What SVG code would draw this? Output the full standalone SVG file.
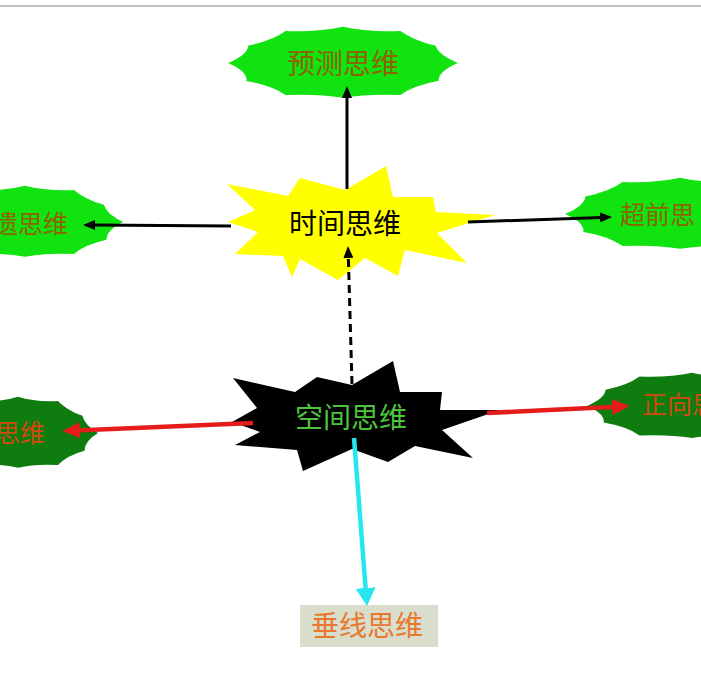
<svg xmlns="http://www.w3.org/2000/svg" xmlns:xlink="http://www.w3.org/1999/xlink" width="701" height="700" viewBox="0 0 701 700">
<style>
  text { font-family: "Noto Sans CJK SC", "Noto Sans", sans-serif; dominant-baseline: central; }
  .main { font-size: 28px; text-anchor: middle; }
  .side { font-size: 25px; }
  .light { fill: #11e311; }
  .dark { fill: #0e7c0e; }
  .tl { fill: #8c6400; }
  .td { fill: #d04a12; }
  .blk { stroke: #000; stroke-width: 3; fill: none; }
  .red { stroke: #e41c1c; stroke-width: 4.5; fill: none; }
  .cyan { stroke: #26e6f2; stroke-width: 4.5; fill: none; }
</style>
<defs>
  <path id="seal" d="M100,0 Q83,22 83.1,48 Q61,61 50,86.6 Q22,83 0,94 Q-22,83 -50,86.6 Q-61,61 -84,48.5 Q-83,22 -100,0 Q-83,-22 -82.3,-47.5 Q-61,-61 -50,-86.6 Q-22,-83 0,-98 Q22,-83 50,-86.6 Q61,-61 80.5,-46.5 Q83,-22 100,0Z"/>
  <marker id="ab" markerUnits="userSpaceOnUse" markerWidth="12" markerHeight="10" refX="2" refY="5" orient="auto"><path d="M0,0 L12,5 L0,10z" fill="#000"/></marker>
  <marker id="ar" markerUnits="userSpaceOnUse" markerWidth="18" markerHeight="16" refX="4" refY="8" orient="auto"><path d="M0,0 L18,8 L0,16z" fill="#e41c1c"/></marker>
  <marker id="ac" markerUnits="userSpaceOnUse" markerWidth="18" markerHeight="20" refX="4" refY="10" orient="auto"><path d="M0,0 L18,10 L0,20z" fill="#26e6f2"/></marker>
</defs>
<rect width="701" height="700" fill="#fff"/>
<line x1="0" y1="6" x2="701" y2="6" stroke="#a8a8a8" stroke-width="1.5"/>

<g id="node-yuce">
  <use xlink:href="#seal" class="light" transform="translate(343,63) scale(1.15,0.37)"/>
  <text class="main tl" x="343" y="62">预测思维</text>
</g>
<g id="node-yi">
  <use xlink:href="#seal" class="light" transform="translate(25,222) scale(0.98,0.37)"/>
  <text class="side tl" x="68" y="222" text-anchor="end">遗思维</text>
</g>
<g id="node-chaoqian">
  <use xlink:href="#seal" class="light" transform="translate(680,214) scale(1.15,0.37)"/>
  <text class="side tl" x="620" y="213">超前思</text>
</g>
<g id="node-shijian">
  <polygon fill="#ffff00" points="227,184 288,196 300,178 345,190 386,166 393,197 433,197 436,212 495,215 437,233 467,263 405,250 398,276 365,258 338,280 300,259 292,277 283,256 235,254 258,232 228,222 255,210"/>
  <text class="main" x="345" y="222" fill="#000">时间思维</text>
</g>
<g id="node-kongjian">
  <polygon fill="#000" points="233,378 295,392 317,377 352,385 393,361 400,392 442,392 440,410 500,410 442,430 473,458 415,446 388,462 352,449 303,471 297,450 235,445 260,432 232,422 257,408"/>
  <text class="main" x="351" y="416" fill="#4cc43c">空间思维</text>
</g>
<g id="node-nixiang">
  <use xlink:href="#seal" class="dark" transform="translate(18,433) scale(0.8,0.37)"/>
  <text class="side td" x="45" y="431" text-anchor="end">思维</text>
</g>
<g id="node-zhengxiang">
  <use xlink:href="#seal" class="dark" transform="translate(692,406) scale(1.05,0.34)"/>
  <text class="side td" x="642" y="403">正向思</text>
</g>
<g id="node-chuixian">
  <rect x="300" y="605" width="138" height="42" fill="#d9ddcc"/>
  <text class="main" x="367" y="624" fill="#e8782e">垂线思维</text>
</g>

<g id="connectors">
  <line class="blk" x1="347" y1="189" x2="347" y2="96" marker-end="url(#ab)"/>
  <line class="blk" x1="231" y1="226" x2="93" y2="225" marker-end="url(#ab)"/>
  <line class="blk" x1="468" y1="222" x2="602" y2="217.4" marker-end="url(#ab)"/>
  <line class="blk" x1="352" y1="384" x2="348.3" y2="256" stroke-dasharray="8 5" marker-end="url(#ab)"/>
  <line class="red" x1="253" y1="423" x2="76" y2="430.4" marker-end="url(#ar)"/>
  <line class="red" x1="487" y1="413" x2="616" y2="406.7" marker-end="url(#ar)"/>
  <line class="cyan" x1="354" y1="438" x2="365.9" y2="592" marker-end="url(#ac)"/>
</g>
</svg>
